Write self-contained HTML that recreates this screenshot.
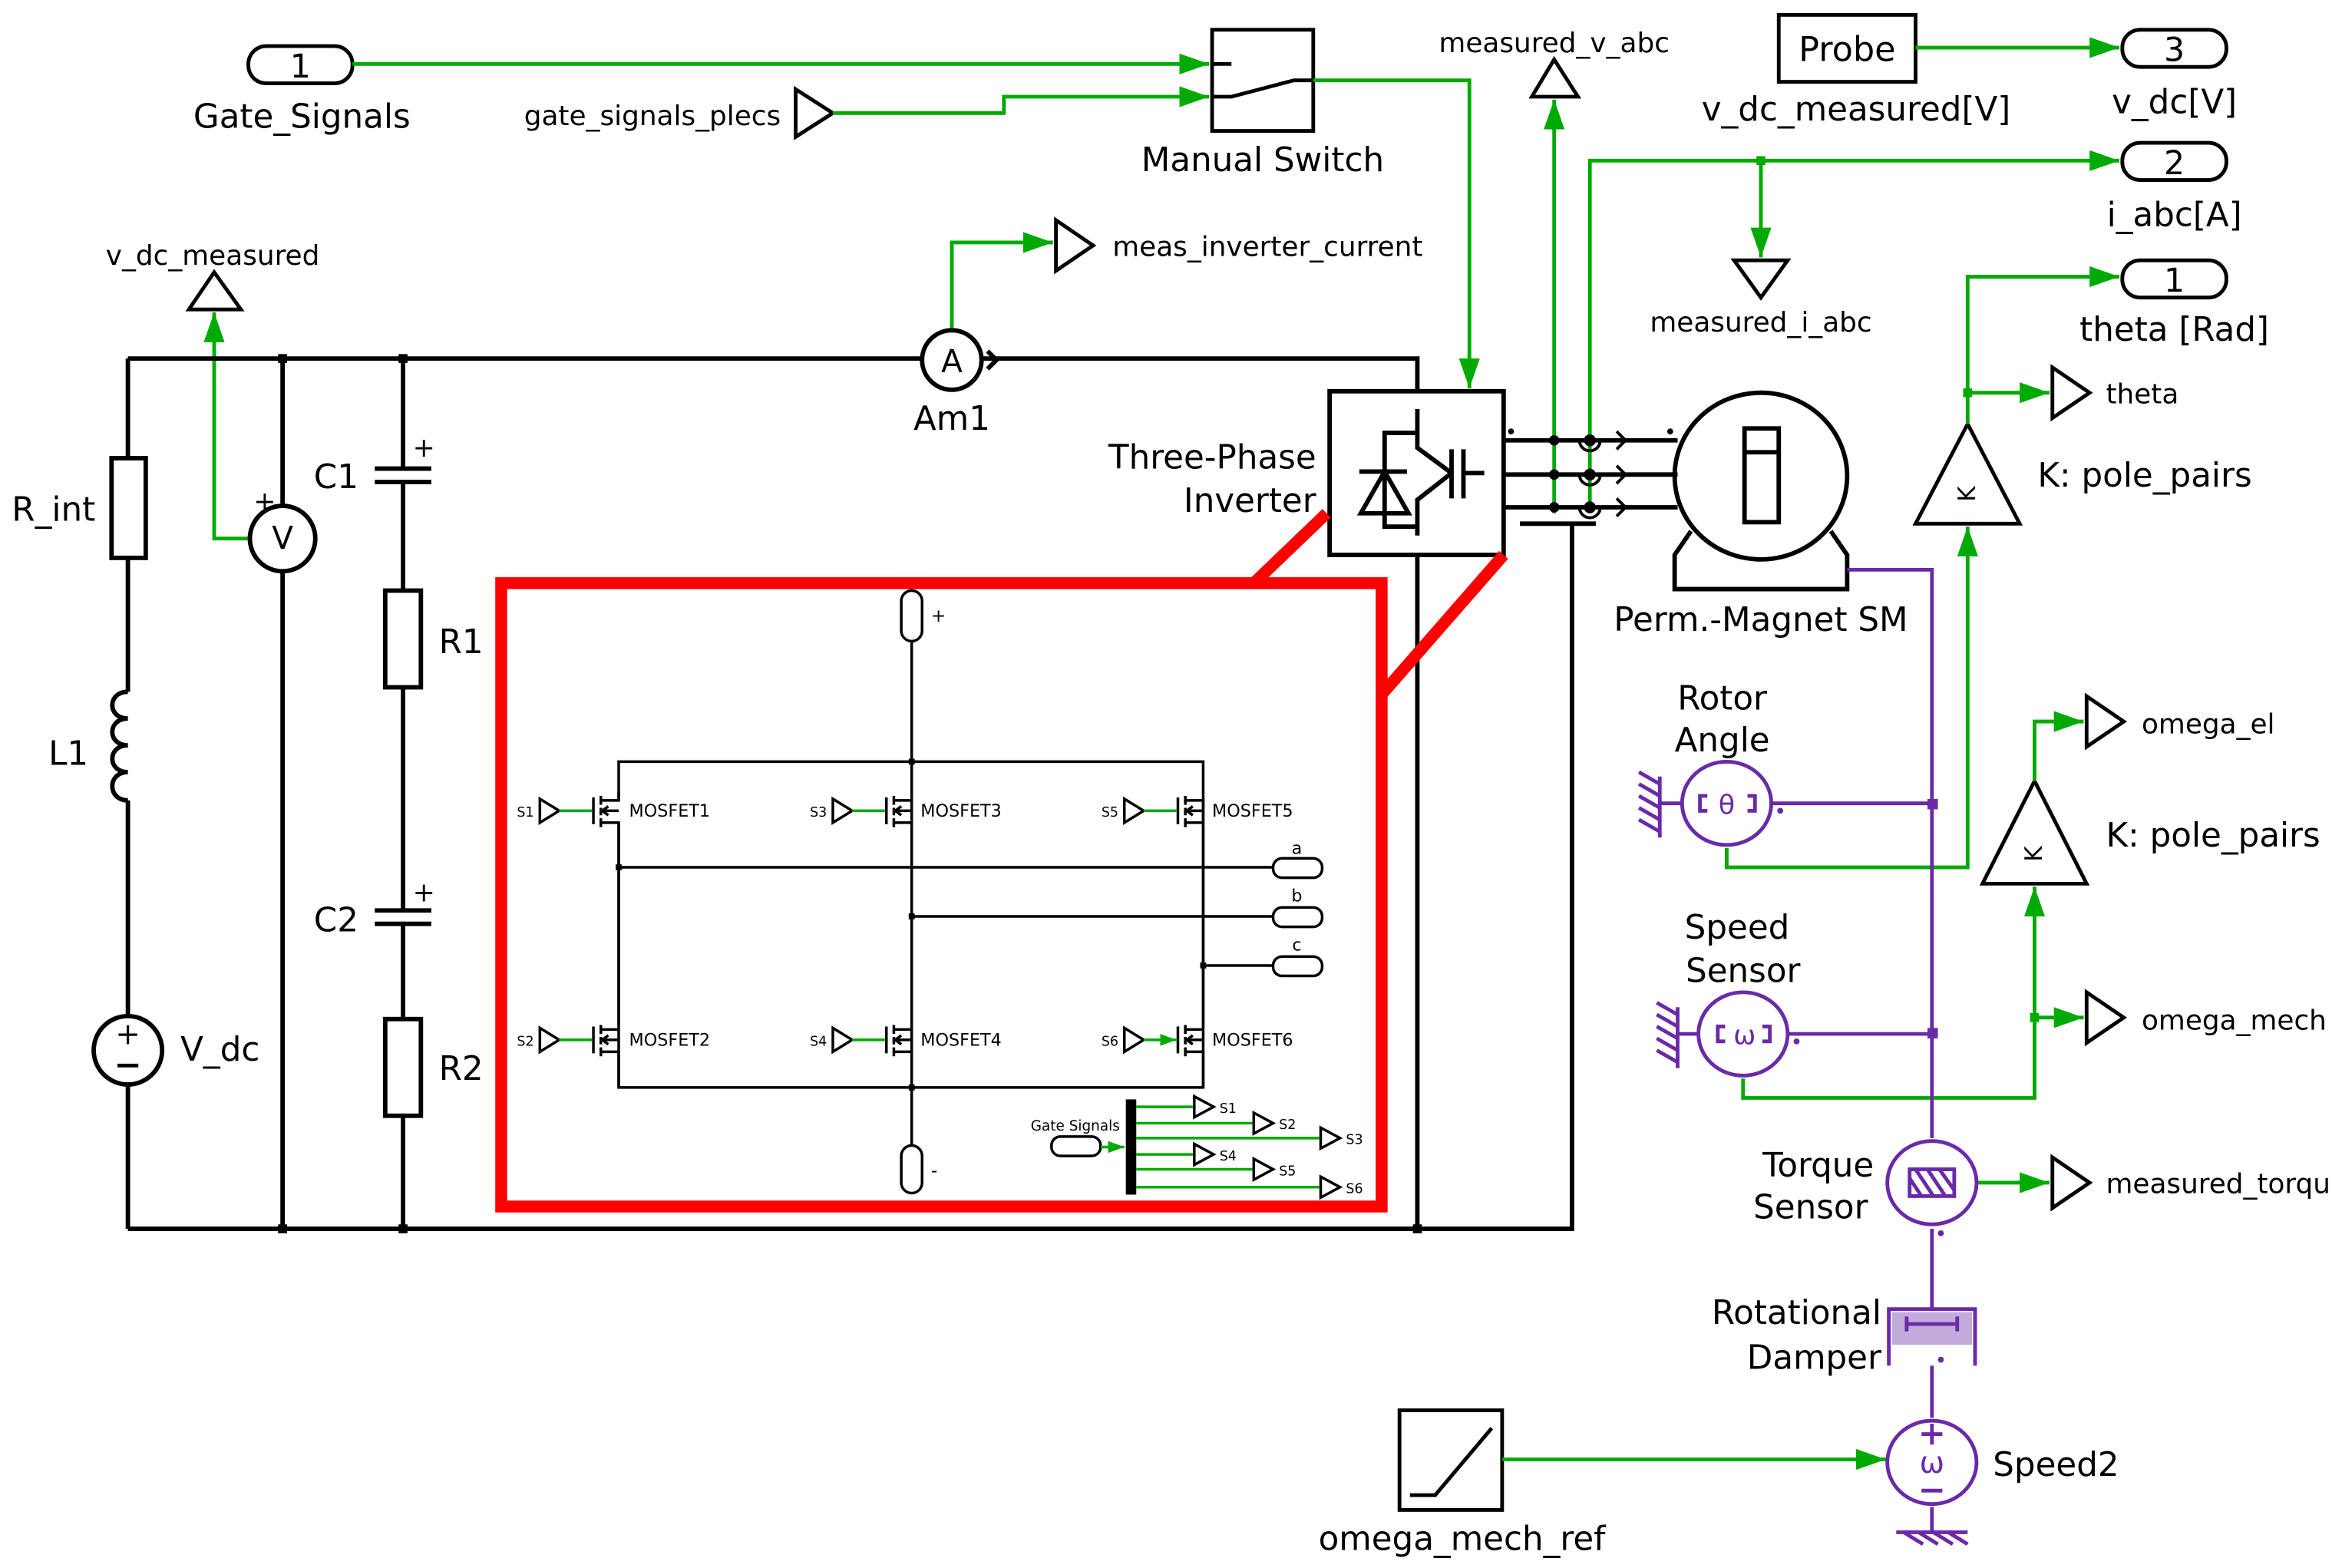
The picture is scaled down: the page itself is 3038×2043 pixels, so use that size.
<!DOCTYPE html>
<html><head><meta charset="utf-8"><style>
html,body{margin:0;padding:0;background:#fff;}
svg{display:block;}
text{font-family:"DejaVu Sans","Liberation Sans",sans-serif;fill:#000;}
</style></head><body>
<svg width="3038" height="2043" viewBox="0 0 1568 1054" preserveAspectRatio="none" xmlns="http://www.w3.org/2000/svg">
<defs>
<marker id="ag" markerUnits="userSpaceOnUse" markerWidth="22" markerHeight="14" refX="20" refY="7" orient="auto"><path d="M0,0 L20,7 L0,14 z" fill="#00aa00"/></marker>
<marker id="as" markerUnits="userSpaceOnUse" markerWidth="12" markerHeight="8" refX="11" refY="4" orient="auto"><path d="M0,0 L11,4 L0,8 z" fill="#00aa00"/></marker>
</defs>
<rect width="1568" height="1054" fill="#fff"/>

<g fill="none" stroke="#000" stroke-width="2.5">
<rect x="167" y="31" width="70" height="25" rx="12"/>
<path d="M535,60 L560,76 L535,92 z"/>
<rect x="815" y="20" width="68" height="68"/>
<path d="M815,43 H828 M815,65 H828 L870,54 H883"/>
<path d="M1030,65 L1045,40 L1061,65 z"/>
<rect x="1196" y="10" width="92" height="45"/>
<rect x="1427" y="20" width="70" height="25" rx="12"/>
<rect x="1427" y="96" width="70" height="25" rx="12"/>
<path d="M1166,175 L1184,200 L1202,175 z"/>
<rect x="1427" y="175" width="70" height="25" rx="12"/>
<path d="M1380,247 L1405,264 L1380,281 z"/>
<path d="M1323,285 L1358,352 L1288,352 z"/>
<path d="M1368,525 L1403,594 L1333,594 z"/>
<path d="M1403,468 L1428,485 L1403,502 z"/>
<path d="M1403,667 L1428,684 L1403,701 z"/>
<path d="M1380,778 L1405,795 L1380,812 z"/>
<path d="M710,148 L735,165 L710,182 z"/>
<path d="M127,208 L144,183 L162,208 z"/>
<rect x="941" y="948" width="69" height="67"/>
<path d="M948,1005 H965 L1003,960"/>
</g>
<text x="202" y="52" font-size="22" text-anchor="middle">1</text>
<text x="1462" y="41" font-size="22" text-anchor="middle">3</text>
<text x="1462" y="117" font-size="22" text-anchor="middle">2</text>
<text x="1462" y="196" font-size="22" text-anchor="middle">1</text>
<text x="1242" y="41" font-size="23" text-anchor="middle">Probe</text>
<g font-size="22.5">
<text x="203" y="86" text-anchor="middle">Gate_Signals</text>
<text x="525" y="84" text-anchor="end" font-size="18.5">gate_signals_plecs</text>
<text x="849" y="115" text-anchor="middle">Manual Switch</text>
<text x="1045" y="35" text-anchor="middle" font-size="18.5">measured_v_abc</text>
<text x="1248" y="81" text-anchor="middle">v_dc_measured[V]</text>
<text x="1462" y="76" text-anchor="middle">v_dc[V]</text>
<text x="1462" y="152" text-anchor="middle">i_abc[A]</text>
<text x="1184" y="223" text-anchor="middle" font-size="18.5">measured_i_abc</text>
<text x="1462" y="229" text-anchor="middle">theta [Rad]</text>
<text x="1416" y="271" font-size="18.5">theta</text>
<text x="1370" y="327">K: pole_pairs</text>
<text x="1440" y="493" font-size="18.5">omega_el</text>
<text x="1416" y="569">K: pole_pairs</text>
<text x="1440" y="692" font-size="18.5">omega_mech</text>
<text x="1416" y="802" font-size="18.5">measured_torqu</text>
<text x="748" y="172" font-size="18.5">meas_inverter_current</text>
<text x="143" y="178" text-anchor="middle" font-size="18.5">v_dc_measured</text>
<text x="983" y="1042" text-anchor="middle">omega_mech_ref</text>
<text x="1158" y="477" text-anchor="middle">Rotor</text>
<text x="1158" y="505" text-anchor="middle">Angle</text>
<text x="1168" y="631" text-anchor="middle">Speed</text>
<text x="1172" y="660" text-anchor="middle">Sensor</text>
<text x="1260" y="791" text-anchor="end">Torque</text>
<text x="1256" y="819" text-anchor="end">Sensor</text>
<text x="1265" y="890" text-anchor="end">Rotational</text>
<text x="1265" y="920" text-anchor="end">Damper</text>
<text x="1340" y="992">Speed2</text>
<text x="1184" y="424" text-anchor="middle">Perm.-Magnet SM</text>
<text x="885" y="315" text-anchor="end">Three-Phase</text>
<text x="885" y="344" text-anchor="end">Inverter</text>
<text x="640" y="289" text-anchor="middle">Am1</text>
<text x="36" y="350" text-anchor="middle">R_int</text>
<text x="46" y="514" text-anchor="middle">L1</text>
<text x="148" y="713" text-anchor="middle">V_dc</text>
<text x="226" y="328" text-anchor="middle">C1</text>
<text x="310" y="439" text-anchor="middle">R1</text>
<text x="226" y="626" text-anchor="middle">C2</text>
<text x="310" y="726" text-anchor="middle">R2</text>
</g>
<text x="1323" y="332" font-size="16" text-anchor="middle" transform="rotate(-90 1323 332)" dy="5">K</text>
<text x="1368" y="574" font-size="16" text-anchor="middle" transform="rotate(-90 1368 574)" dy="5">K</text>

<g fill="none" stroke="#00aa00" stroke-width="2.5">
<path d="M237,43 H813" marker-end="url(#ag)"/>
<path d="M560,76 H675 V65 H813" marker-end="url(#ag)"/>
<path d="M883,54 H988 V261" marker-end="url(#ag)"/>
<path d="M1045,296 V67" marker-end="url(#ag)"/>
<path d="M1045,296 V345"/>
<path d="M1288,32 H1425" marker-end="url(#ag)"/>
<path d="M1069,345 V108 H1425" marker-end="url(#ag)"/>
<path d="M1184,108 V173" marker-end="url(#ag)"/>
<path d="M1323,285 V186 H1425" marker-end="url(#ag)"/>
<path d="M1323,264 H1378" marker-end="url(#ag)"/>
<path d="M1161,570 V583 H1323 V354" marker-end="url(#ag)"/>
<path d="M1368,525 V485 H1401" marker-end="url(#ag)"/>
<path d="M1172,725 V738 H1368 V596" marker-end="url(#ag)"/>
<path d="M1368,684 H1401" marker-end="url(#ag)"/>
<path d="M1330,795 H1378" marker-end="url(#ag)"/>
<path d="M1010,981 H1268" marker-end="url(#ag)"/>
<path d="M640,222 V163 H708" marker-end="url(#ag)"/>
<path d="M168,362 H144 V210" marker-end="url(#ag)"/>
</g>
<g fill="#00aa00"><rect x="1181" y="105" width="6" height="6"/><rect x="1320" y="261" width="6" height="6"/><rect x="1365" y="681" width="6" height="6"/></g>

<g fill="none" stroke="#000" stroke-width="3">
<path d="M86,241 H620 M660,241 H953 V263"/>
<path d="M86,826 H1057 V352"/>
<path d="M953,373 V826"/>
<path d="M86,241 V308 M86,375 V465 M86,538 V683 M86,729 V826"/>
<rect x="75" y="308" width="23" height="67"/>
<path d="M86,465 c-14,0 -14,18 0,18 c-14,0 -14,18 0,18 c-14,0 -14,18 0,18 c-14,0 -14,19 0,19"/>
<circle cx="86" cy="706" r="23"/>
<path d="M190,241 V340 M190,384 V826"/>
<circle cx="190" cy="362" r="22"/>
<path d="M271,241 V315 M271,324 V397 M271,462 V612 M271,621 V685 M271,750 V826"/>
<path d="M252,315 H290 M252,324 H290 M252,612 H290 M252,621 H290"/>
<rect x="259" y="397" width="24" height="65"/>
<rect x="259" y="685" width="24" height="65"/>
<circle cx="640" cy="242" r="20"/>
<path d="M664,236 L670,242 L664,248"/>
<rect x="894" y="263" width="117" height="110"/>
<path d="M1011,296 H1128 M1011,319 H1128 M1011,341 H1128"/>
<path d="M1022,352 H1073"/>
<ellipse cx="1184" cy="320" rx="58" ry="56"/>
<path d="M1137,357 L1126,373 V396 H1242 V373 L1231,357"/>
<rect x="1173" y="288" width="23" height="63"/>
<path d="M1173,304 H1196"/>
<path d="M953,275 V301 L976,318 M953,360 V336 L976,318"/>
<path d="M976,302 V335 M984,302 V335 M984,318 H998"/>
<path d="M953,291 H931 V354 H953"/>
<path d="M914,317 H946 M931,317 L915,345 H947 z"/>
</g>
<text x="86" y="702" font-size="20" text-anchor="middle">+</text>
<rect x="79" y="715" width="14" height="2.5" fill="#000"/>
<text x="190" y="369" font-size="21" text-anchor="middle">V</text>
<text x="178" y="343" font-size="18" text-anchor="middle">+</text>
<text x="285" y="307" font-size="18" text-anchor="middle">+</text>
<text x="285" y="606" font-size="18" text-anchor="middle">+</text>
<text x="640" y="250" font-size="21" text-anchor="middle">A</text>
<g fill="#000">
<rect x="187" y="238" width="6" height="6"/><rect x="268" y="238" width="6" height="6"/>
<rect x="187" y="823" width="6" height="6"/><rect x="268" y="823" width="6" height="6"/><rect x="950" y="823" width="6" height="6"/>
<circle cx="1045" cy="296" r="3.5"/><circle cx="1045" cy="319" r="3.5"/><circle cx="1045" cy="341" r="3.5"/>
<circle cx="1069" cy="296" r="4"/><circle cx="1069" cy="319" r="4"/><circle cx="1069" cy="341" r="4"/>
<circle cx="1016" cy="290" r="2"/><circle cx="1123" cy="290" r="2"/>
</g>
<g fill="none" stroke="#000" stroke-width="2">
<path d="M1062,296 a7,7 0 0 0 14,0 M1062,319 a7,7 0 0 0 14,0 M1062,341 a7,7 0 0 0 14,0"/>
<path d="M1087,290 L1093,296 L1087,302 M1087,313 L1093,319 L1087,325 M1087,335 L1093,341 L1087,347"/>
</g>

<g fill="none" stroke="#ff0000" stroke-width="8">
<rect x="337" y="392" width="592" height="419"/>
<path d="M843,392 L892,345 M928,468 L1011,373"/>
</g>
<g fill="none" stroke="#000" stroke-width="1.8">
<rect x="606" y="397" width="14" height="34" rx="7"/>
<rect x="606" y="770" width="14" height="32" rx="7"/>
<path d="M613,431 V770"/>
<path d="M416,532 V512 H809 V532 M416,558 V731 H809 V558 M809,532 V558"/>
<path d="M416,532 V537 M416,553 V690 M416,706 V731"/>
<path d="M809,537 V553 M809,553 V690 M809,706 V731"/>
<path d="M416,583 H856 M613,616 H856 M809,649 H856"/>
<rect x="856" y="577" width="33" height="13" rx="6"/>
<rect x="856" y="610" width="33" height="13" rx="6"/>
<rect x="856" y="643" width="33" height="13" rx="6"/>
<rect x="707" y="764" width="33" height="13" rx="6"/>
</g>
<g fill="#000"><rect x="414" y="581" width="4" height="4"/><rect x="611" y="614" width="4" height="4"/><rect x="807" y="647" width="4" height="4"/><rect x="611" y="510" width="4" height="4"/><rect x="611" y="729" width="4" height="4"/>
<rect x="757" y="739" width="7" height="64"/></g>

<g fill="none" stroke="#000" stroke-width="1.8">
<path d="M399,536 V554 M404,535 V541 M404,543 V548 M404,550 V556 M404,538 H416 V532 M404,553 H416 V560 M404,545 H416 M409,542 L405,545 L409,548"/>
<path d="M596,536 V554 M601,535 V541 M601,543 V548 M601,550 V556 M601,538 H613 M601,553 H613 M601,545 H613 M606,542 L602,545 L606,548"/>
<path d="M792,536 V554 M797,535 V541 M797,543 V548 M797,550 V556 M797,538 H809 M797,553 H809 M797,545 H809 M802,542 L798,545 L802,548"/>
<path d="M399,690 V708 M404,689 V695 M404,697 V702 M404,704 V710 M404,692 H416 M404,707 H416 M404,699 H416 M409,696 L405,699 L409,702"/>
<path d="M596,690 V708 M601,689 V695 M601,697 V702 M601,704 V710 M601,692 H613 M601,707 H613 M601,699 H613 M606,696 L602,699 L606,702"/>
<path d="M792,690 V708 M797,689 V695 M797,697 V702 M797,704 V710 M797,692 H809 M797,707 H809 M797,699 H809 M802,696 L798,699 L802,702"/>
<path d="M363,537 L376,545 L363,553 z M560,537 L573,545 L560,553 z M756,537 L769,545 L756,553 z"/>
<path d="M363,691 L376,699 L363,707 z M560,691 L573,699 L560,707 z M756,691 L769,699 L756,707 z"/>
<path d="M803,737 L816,744 L803,751 z M843,748 L856,755 L843,762 z M888,758 L901,765 L888,772 z M803,769 L816,776 L803,783 z M843,779 L856,786 L843,793 z M888,791 L901,798 L888,805 z"/>
</g>
<g fill="none" stroke="#00aa00" stroke-width="1.8">
<path d="M376,545 H398 M573,545 H595 M769,545 H791 M376,699 H398 M573,699 H595 M769,699 H791" marker-end="url(#as)"/>
<path d="M764,744 H802 M764,755 H842 M764,765 H887 M764,776 H802 M764,786 H842 M764,798 H887 M740,771 H756" marker-end="url(#as)"/>
</g>
<g font-size="11.5">
<text x="423" y="549">MOSFET1</text><text x="619" y="549">MOSFET3</text><text x="815" y="549">MOSFET5</text>
<text x="423" y="703">MOSFET2</text><text x="619" y="703">MOSFET4</text><text x="815" y="703">MOSFET6</text>
<text x="359" y="549" text-anchor="end" font-size="9">S1</text><text x="556" y="549" text-anchor="end" font-size="9">S3</text><text x="752" y="549" text-anchor="end" font-size="9">S5</text>
<text x="359" y="703" text-anchor="end" font-size="9">S2</text><text x="556" y="703" text-anchor="end" font-size="9">S4</text><text x="752" y="703" text-anchor="end" font-size="9">S6</text>
<text x="872" y="574" text-anchor="middle">a</text><text x="872" y="606" text-anchor="middle">b</text><text x="872" y="639" text-anchor="middle">c</text>
<text x="626" y="418" font-size="12">+</text><text x="626" y="791" font-size="12">-</text>
<text x="723" y="760" text-anchor="middle" font-size="9.5">Gate Signals</text>
<g font-size="9"><text x="820" y="748">S1</text><text x="860" y="759">S2</text><text x="905" y="769">S3</text><text x="820" y="780">S4</text><text x="860" y="790">S5</text><text x="905" y="802">S6</text></g>
</g>

<g fill="none" stroke="#6a2aa8" stroke-width="2.5">
<path d="M1242,383 H1299 V765 M1299,826 V880 M1299,918 V953 M1299,1013 V1030"/>
<path d="M1190,540 H1299 M1202,695 H1299"/>
<ellipse cx="1161" cy="540" rx="30" ry="28"/>
<ellipse cx="1172" cy="695" rx="30" ry="28"/>
<ellipse cx="1299" cy="795" rx="30" ry="28"/>
<ellipse cx="1299" cy="983" rx="30" ry="28"/>
<path d="M1131,540 H1116 M1116,522 V563 M1116,527 L1102,519 M1116,535 L1102,527 M1116,543 L1102,535 M1116,551 L1102,543 M1116,559 L1102,551"/>
<path d="M1142,695 H1128 M1128,677 V718 M1128,682 L1114,674 M1128,690 L1114,682 M1128,698 L1114,690 M1128,706 L1114,698 M1128,714 L1114,706"/>
<path d="M1275,1030 H1323 M1280,1030 L1293,1038 M1290,1030 L1303,1038 M1300,1030 L1313,1038 M1310,1030 L1323,1038"/>
<path d="M1148,535 H1143 V545 H1148 M1175,535 H1180 V545 H1175"/>
<path d="M1160,690 H1155 V700 H1160 M1185,690 H1190 V700 H1185"/>
<rect x="1284" y="786" width="30" height="18"/>
<path d="M1288,786 L1300,804 M1296,786 L1308,804 M1304,786 L1314,800 M1284,792 L1292,804"/>
<path d="M1270,918 V880 H1328 V918 M1282,890 H1316 M1282,885 V895 M1316,885 V895"/>
<path d="M1292,964 H1306 M1299,957 V971 M1292,1002 H1306"/>
</g>
<rect x="1272" y="882" width="54" height="22" fill="#6a2aa8" opacity="0.4"/>
<g fill="#6a2aa8"><rect x="1296" y="537" width="7" height="7"/><rect x="1296" y="691" width="7" height="7"/>
<circle cx="1197" cy="545" r="2"/><circle cx="1208" cy="700" r="2"/><circle cx="1305" cy="829" r="2"/><circle cx="1305" cy="914" r="2"/></g>
<g font-size="18" text-anchor="middle">
<text x="1161" y="547" style="fill:#6a2aa8">θ</text>
<text x="1173" y="702" style="fill:#6a2aa8">ω</text>
<text x="1299" y="990" style="fill:#6a2aa8" font-size="20">ω</text>
</g>
</svg>
</body></html>
